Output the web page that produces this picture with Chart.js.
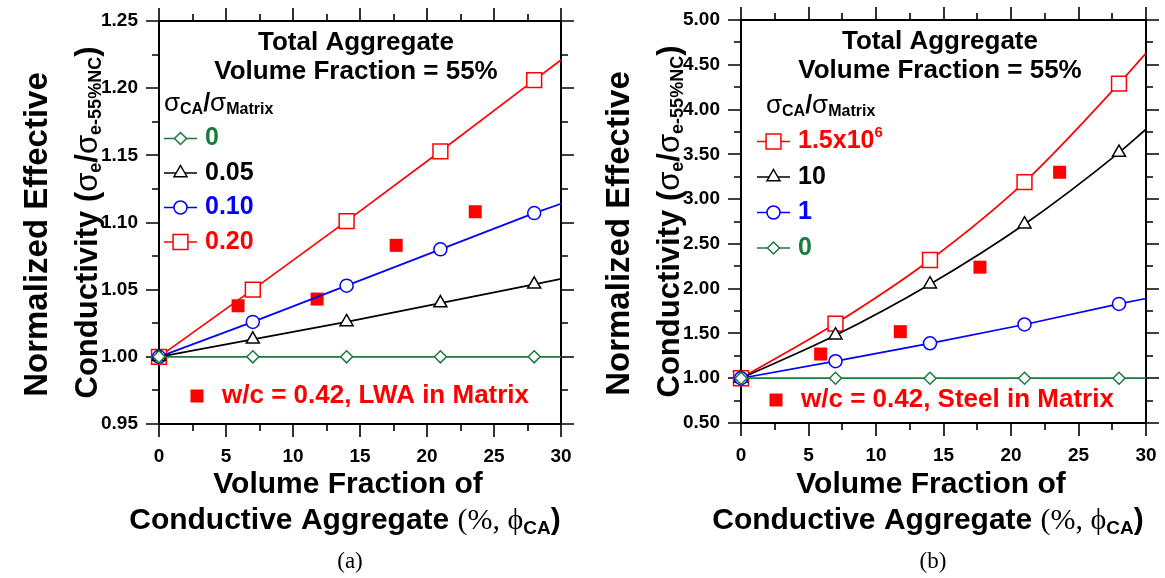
<!DOCTYPE html>
<html>
<head>
<meta charset="utf-8">
<script src="https://cdn.jsdelivr.net/npm/chart.js@4.4.1/dist/chart.umd.min.js"></script>
<style>
body { margin: 0; background: #fff; }
#wrap { position: relative; width: 1165px; height: 578px; }
canvas { position: absolute; top: 0; }
</style>
</head>
<body>
<div id="wrap">
  <canvas id="chartA" width="582" height="578" style="left:0"></canvas>
  <canvas id="chartB" width="583" height="578" style="left:582px"></canvas>
</div>
<script>
// volume fraction of conductive aggregate (%) - model points + end of fitted line
const fracModel = [0, 7, 14, 21, 28, 30];
const fracMeasured = [0, 5.9, 11.8, 17.7, 23.6];

// (a) sigma_CA / sigma_Matrix
const aRatio0 = [1.000, 1.000, 1.000, 1.000, 1.000, 1.000];
const aRatio005 = [1.000, 1.013, 1.026, 1.040, 1.054, 1.058];
const aRatio010 = [1.000, 1.026, 1.053, 1.080, 1.107, 1.114];
const aRatio020 = [1.000, 1.050, 1.101, 1.153, 1.206, 1.221];
const aMeasured = [1.000, 1.038, 1.043, 1.083, 1.108];

// (b)
const bRatio0 = [1.00, 1.00, 1.00, 1.00, 1.00, 1.00];
const bRatio1 = [1.00, 1.19, 1.39, 1.60, 1.83, 1.89];
const bRatio10 = [1.00, 1.48, 2.05, 2.72, 3.52, 3.78];
const bRatio15e6 = [1.00, 1.61, 2.32, 3.19, 4.29, 4.63];
const bMeasured = [1.00, 1.27, 1.52, 2.24, 3.30];

const xTicks = [0, 5, 10, 15, 20, 25, 30];
const aTickLabels = ['0.95', '1.00', '1.05', '1.10', '1.15', '1.20', '1.25'];
const bTickLabels = ['0.50', '1.00', '1.50', '2.00', '2.50', '3.00', '3.50', '4.00', '4.50', '5.00'];

const RED = '#ff0000', BLUE = '#0000ff', BLACK = '#000000', GREEN = '#1b7a3e';
const SANS = '"Liberation Sans", Arial, sans-serif';
const SERIF = '"Liberation Serif", "Times New Roman", serif';

function pts(xs, ys) {
    return ys.map((y, i) => ({ x: xs[i], y: y }));
}

function series(label, ys, color, style, radius, smooth) {
    return {
        label: label,
        data: pts(fracModel, ys),
        showLine: true,
        borderColor: color,
        backgroundColor: '#fff',
        borderWidth: 1.7,
        pointStyle: style,
        pointRadius: ctx => ctx.dataIndex === 5 ? 0 : radius,
        pointBorderWidth: 1.5,
        pointBorderColor: color,
        pointBackgroundColor: '#fff',
        tension: smooth ? 0.4 : 0,
        cubicInterpolationMode: smooth ? 'monotone' : 'default',
        clip: false
    };
}

function measured(ys) {
    return {
        label: 'measured',
        data: pts(fracMeasured, ys),
        showLine: false,
        pointStyle: 'rect',
        pointRadius: 9.2,
        pointBorderWidth: 0,
        pointBackgroundColor: RED,
        borderColor: RED,
        clip: false
    };
}

// draw a marker for the legend
function marker(ctx, style, x, y, r, color) {
    ctx.save();
    ctx.strokeStyle = color;
    ctx.fillStyle = '#fff';
    ctx.lineWidth = 1.5;
    ctx.beginPath();
    if (style === 'circle') {
        ctx.arc(x, y, r, 0, Math.PI * 2);
    } else if (style === 'rect') {
        const s = r * Math.SQRT1_2;
        ctx.rect(x - s, y - s, 2 * s, 2 * s);
    } else if (style === 'triangle') {
        ctx.moveTo(x, y - r);
        ctx.lineTo(x + r * 0.866, y + r * 0.5);
        ctx.lineTo(x - r * 0.866, y + r * 0.5);
        ctx.closePath();
    } else if (style === 'rectRot') {
        ctx.moveTo(x - r, y);
        ctx.lineTo(x, y - r);
        ctx.lineTo(x + r, y);
        ctx.lineTo(x, y + r);
        ctx.closePath();
    }
    ctx.fill();
    ctx.stroke();
    ctx.restore();
}

// text made of runs: [text, font, dy, color]
function runs(ctx, parts, x, y, align) {
    let w = 0;
    parts.forEach(p => { ctx.font = p[1]; w += ctx.measureText(p[0]).width; });
    let cx = align === 'center' ? x - w / 2 : x;
    ctx.textBaseline = 'middle';
    ctx.textAlign = 'left';
    parts.forEach(p => {
        ctx.font = p[1];
        ctx.fillStyle = p[3] || '#000';
        ctx.fillText(p[0], cx, y + (p[2] || 0));
        cx += ctx.measureText(p[0]).width;
    });
}

const decorPlugin = {
    id: 'decor',
    beforeDatasetsDraw(chart) {
        const ctx = chart.ctx;
        const a = chart.chartArea;
        const xs = chart.scales.x, ys = chart.scales.y;
        const o = chart.options.plugins.decor;
        ctx.save();
        ctx.strokeStyle = '#000';
        ctx.lineWidth = 2;
        ctx.strokeRect(a.left, a.top, a.right - a.left, a.bottom - a.top);
        ctx.lineWidth = 1.6;
        ctx.beginPath();
        for (let v = 0; v <= 30.001; v += 2.5) {
            const px = Math.round(xs.getPixelForValue(v));
            const len = (v % 5 === 0) ? 13 : 7;
            ctx.moveTo(px, a.top); ctx.lineTo(px, a.top - len);
            ctx.moveTo(px, a.bottom); ctx.lineTo(px, a.bottom + len);
        }
        for (let v = o.yMin; v <= o.yMax + 1e-9; v += o.yStep / 2) {
            const py = Math.round(ys.getPixelForValue(v));
            const k = Math.round((v - o.yMin) / (o.yStep / 2));
            const len = (k % 2 === 0) ? 13 : 7;
            ctx.moveTo(a.left, py); ctx.lineTo(a.left - len, py);
            ctx.moveTo(a.right, py); ctx.lineTo(a.right + len, py);
        }
        ctx.stroke();
        ctx.restore();
    },
    afterDraw(chart) {
        const ctx = chart.ctx;
        const a = chart.chartArea;
        const o = chart.options.plugins.decor;
        ctx.save();

        // y title, rotated
        const cy = (a.top + a.bottom) / 2;
        ctx.save();
        ctx.translate(o.yTitleX, cy);
        ctx.rotate(-Math.PI / 2);
        runs(ctx, [['Normalized Effective', 'bold 33px ' + SANS]], -12, 0, 'center');
        runs(ctx, [
            ['Conductivity (', 'bold 31px ' + SANS],
            ['\u03c3', '31px ' + SANS],
            ['e', 'bold 18px ' + SANS, 8],
            ['/', 'bold 31px ' + SANS],
            ['\u03c3', '31px ' + SANS],
            ['e-55%NC', 'bold 18px ' + SANS, 8],
            [')', 'bold 31px ' + SANS]
        ], 0, 50, 'center');
        ctx.restore();

        // x title
        runs(ctx, [['Volume Fraction of', 'bold 30px ' + SANS]], o.xTitleX, 485, 'center');
        runs(ctx, [
            ['Conductive Aggregate ', 'bold 30px ' + SANS],
            ['(%, \u03d5', '30px ' + SERIF],
            ['CA', 'bold 19px ' + SANS, 8],
            [')', 'bold 30px ' + SANS]
        ], o.xTitleX - 3, 521, 'center');
        runs(ctx, [[o.caption, '23px ' + SERIF]], o.xTitleX + 2, 562, 'center');

        // box title
        runs(ctx, [['Total Aggregate', 'bold 26px ' + SANS]], o.boxX, a.top + 22, 'center');
        runs(ctx, [['Volume Fraction = 55%', 'bold 26px ' + SANS]], o.boxX, a.top + 51, 'center');

        // legend header
        runs(ctx, [
            ['\u03c3', '26px ' + SANS],
            ['CA', 'bold 16px ' + SANS, 6],
            ['/', 'bold 25px ' + SANS],
            ['\u03c3', '26px ' + SANS],
            ['Matrix', 'bold 16px ' + SANS, 6]
        ], o.headX, o.legY, 'left');

        o.entries.forEach((e, i) => {
            const y = o.legY + o.legGap * (i + 1);
            ctx.strokeStyle = e.color;
            ctx.lineWidth = 1.7;
            ctx.beginPath();
            ctx.moveTo(o.legX, y); ctx.lineTo(o.legX + 33, y);
            ctx.stroke();
            marker(ctx, e.style, o.legX + 16.5, y, e.r, e.color);
            runs(ctx, e.text.map(t => [t[0], t[1], t[2], e.color]), o.legX + 41, y, 'left');
        });

        // measured data note
        ctx.fillStyle = RED;
        ctx.fillRect(o.noteX - 6.5, o.noteY - 6.5, 13, 13);
        runs(ctx, [[o.note, 'bold 26px ' + SANS, 0, RED]], o.noteX + 25, o.noteY, 'left');
        ctx.restore();
    }
};

function makeChart(id, cfg) {
    const W = cfg.width, H = 578;
    return new Chart(document.getElementById(id), {
        type: 'scatter',
        data: { datasets: cfg.datasets },
        options: {
            responsive: false,
            animation: false,
            layout: { padding: { left: 0, top: cfg.area.top, right: W - cfg.area.right, bottom: H - cfg.area.bottom - 40 } },
            plugins: {
                legend: { display: false },
                tooltip: { enabled: false },
                decor: cfg.decor
            },
            scales: {
                x: {
                    type: 'linear', min: 0, max: 30,
                    afterBuildTicks: s => { s.ticks = xTicks.map(v => ({ value: v })); },
                    ticks: { color: '#000', font: { family: SANS, size: 19, weight: 'bold' }, padding: 21, maxRotation: 0, autoSkip: false },
                    grid: { display: false, drawTicks: false },
                    border: { display: false },
                    afterFit: s => { s.height = 40; s.paddingLeft = 0; s.paddingRight = 0; }
                },
                y: {
                    type: 'linear', min: cfg.decor.yMin, max: cfg.decor.yMax,
                    afterBuildTicks: s => { s.ticks = cfg.yLabels.map(t => ({ value: parseFloat(t) })); },
                    ticks: { color: '#000', font: { family: SANS, size: 19, weight: 'bold' }, padding: 21,
                        callback: (v) => v.toFixed(2) },
                    grid: { display: false, drawTicks: false },
                    border: { display: false },
                    afterFit: s => { s.width = cfg.area.left; s.paddingTop = 0; s.paddingBottom = 0; }
                }
            }
        },
        plugins: [decorPlugin]
    });
}

const big = 'bold 25px ' + SANS;

makeChart('chartA', {
    width: 582,
    area: { left: 159, right: 561, top: 21, bottom: 424 },
    yLabels: aTickLabels,
    datasets: [
        series('0', aRatio0, GREEN, 'rectRot', 6, false),
        series('0.05', aRatio005, BLACK, 'triangle', 7.5, false),
        series('0.10', aRatio010, BLUE, 'circle', 6.5, false),
        series('0.20', aRatio020, RED, 'rect', 10.5, false),
        measured(aMeasured)
    ],
    decor: {
        yMin: 0.95, yMax: 1.25, yStep: 0.05, yTitleX: 38, caption: '(a)', xTitleX: 348,
        boxX: 356, headX: 164, legX: 164, legY: 104, legGap: 34.5,
        entries: [
            { color: GREEN, style: 'rectRot', r: 6, text: [['0', big]] },
            { color: BLACK, style: 'triangle', r: 7.5, text: [['0.05', big]] },
            { color: BLUE, style: 'circle', r: 6.5, text: [['0.10', big]] },
            { color: RED, style: 'rect', r: 10.5, text: [['0.20', big]] }
        ],
        noteX: 197, noteY: 396, note: 'w/c = 0.42, LWA in Matrix'
    }
});

makeChart('chartB', {
    width: 583,
    area: { left: 159, right: 564, top: 20, bottom: 423 },
    yLabels: bTickLabels,
    datasets: [
        series('0', bRatio0, GREEN, 'rectRot', 6, false),
        series('1', bRatio1, BLUE, 'circle', 6.5, false),
        series('10', bRatio10, BLACK, 'triangle', 7.5, true),
        series('1.5x10^6', bRatio15e6, RED, 'rect', 10.5, true),
        measured(bMeasured)
    ],
    decor: {
        yMin: 0.5, yMax: 5.0, yStep: 0.5, yTitleX: 38, caption: '(b)', xTitleX: 349,
        boxX: 358, headX: 184, legX: 175, legY: 106, legGap: 35.5,
        entries: [
            { color: RED, style: 'rect', r: 10.5, text: [['1.5x10', big], ['6', 'bold 15px ' + SANS, -9]] },
            { color: BLACK, style: 'triangle', r: 7.5, text: [['10', big]] },
            { color: BLUE, style: 'circle', r: 6.5, text: [['1', big]] },
            { color: GREEN, style: 'rectRot', r: 6, text: [['0', big]] }
        ],
        noteX: 194, noteY: 400, note: 'w/c = 0.42, Steel in Matrix'
    }
});
</script>
</body>
</html>
